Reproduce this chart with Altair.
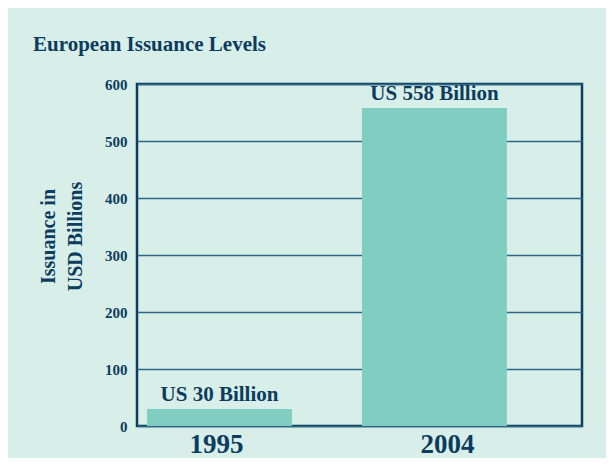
import altair as alt
import pandas as pd

years = ["1995", "2004"]
issuance = [30, 558]
labels = ["US 30 Billion", "US 558 Billion"]
y_ticks = [0, 100, 200, 300, 400, 500, 600]

df = pd.DataFrame({"year": years, "value": issuance, "label": labels})

NAVY = "#0c3c5e"
GRID = "#2f6787"
BAR = "#80cdc1"
BG = "#d8eee8"
FONT = "Liberation Serif"

x = alt.X(
    "year:N",
    title=None,
    scale=alt.Scale(paddingInner=0.326, paddingOuter=0.198, align=0.118),
    axis=alt.Axis(
        labelAngle=0,
        labelFont=FONT,
        labelFontSize=27,
        labelFontWeight="bold",
        labelColor=NAVY,
        labelPadding=5,
        labelOffset={"condition": {"test": "datum.value === '2004'", "value": 13}, "value": -3},
        domain=False,
        ticks=False,
    ),
)
y = alt.Y(
    "value:Q",
    scale=alt.Scale(domain=[0, 600], nice=False),
    axis=alt.Axis(
        values=y_ticks,
        title=["Issuance in", "USD Billions"],
        titleFont=FONT,
        titleFontSize=20,
        titleFontWeight="bold",
        titleColor=NAVY,
        titleAngle=-90,
        titleBaseline="middle",
        titleLineHeight=27,
        titleX=-89,
        titleY=152,
        labelFont=FONT,
        labelFontSize=15,
        labelFontWeight="bold",
        labelColor=NAVY,
        labelPadding=10,
        ticks=False,
        domain=False,
        grid=True,
        gridColor=GRID,
        gridWidth=1.5,
    ),
)

bars = alt.Chart(df).mark_bar(color=BAR).encode(x=x, y=y)
text = alt.Chart(df).mark_text(
    font=FONT, fontSize=21, fontWeight="bold", color=NAVY, baseline="bottom", dy=-4
).encode(x=x, y=y, text="label:N")

chart = (
    alt.layer(bars, text)
    .properties(
        width=445,
        height=342,
        background=BG,
        padding={"left": 129, "top": 76, "right": 24, "bottom": 32},
        autosize=alt.AutoSizeParams(type="none"),
        title=alt.TitleParams(
            "European Issuance Levels",
            font=FONT,
            fontSize=21,
            fontWeight="bold",
            color=NAVY,
            anchor="start",
            frame="group",
            dx=-104,
            baseline="alphabetic",
            offset=5,
        ),
    )
    .configure_view(stroke=NAVY, strokeWidth=2.5)
)

chart.save("out.html", embed_options={"renderer": "svg", "actions": False})
